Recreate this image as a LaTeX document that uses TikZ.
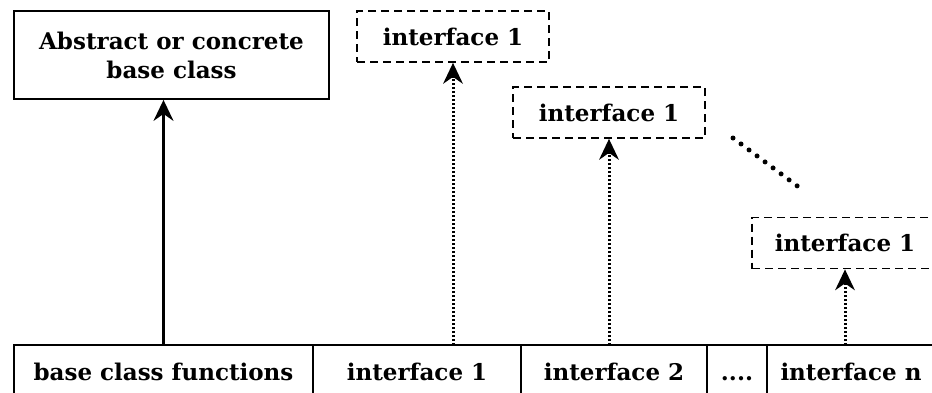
\documentclass[tikz,border=0pt]{standalone}
\usepackage{fontspec}
\setmainfont{DejaVu Serif}
\usetikzlibrary{arrows.meta}
\begin{document}
\begin{tikzpicture}[x=1pt,y=-1pt,
  every node/.style={font=\bfseries\fontsize{23}{29}\selectfont, inner sep=0pt},
  solidbox/.style={draw, line width=1.8pt, align=center},
  dashbox/.style={draw, line width=1.8pt, dash pattern=on 8pt off 5pt, minimum width=192, minimum height=51},
  cell/.style={draw, line width=1.8pt, outer sep=0pt, minimum height=58, text height=17pt, text depth=5pt},
  inh/.style={line width=2.2pt, -{Stealth[length=21pt,width=20pt,inset=7pt]}},
  impl/.style={line width=3pt, dash pattern=on 2.2pt off 1.8pt, -{Stealth[length=21pt,width=20pt,inset=7pt,line width=0pt,sep=0pt]}},
  dotline/.style={line width=5pt, line cap=round, dash pattern=on 0pt off 10pt}
]
\useasboundingbox (0,0) rectangle (932,392);
\clip (0,0) rectangle (932,392);
\node[solidbox, minimum width=315, minimum height=88] (base) at (171.5,55) {Abstract or concrete\\base class};
\node[dashbox] (i1) at (453,36.5) {interface 1};
\node[dashbox] (i2) at (609,112.5) {interface 1};
\node[dashbox, minimum width=186] (i3) at (845,243) {interface 1};
\node[cell, minimum width=299, anchor=north west] (c0) at (14,345) {base class functions};
\node[cell, minimum width=208, anchor=north west] (c1) at (c0.north east) {interface 1};
\node[cell, minimum width=186, anchor=north west] (c2) at (c1.north east) {interface 2};
\node[cell, minimum width=60, anchor=north west] (c3) at (c2.north east) {....};
\node[cell, minimum width=168, anchor=north west] (c4) at (c3.north east) {interface n};
\coordinate (d1) at (733,138);
\coordinate (d2) at (804,191);
\draw[inh] (c0.north) -- (c0.north |- base.south);
\draw[impl] (i1.south |- c1.north) -- (i1.south);
\draw[impl] (i2.south |- c2.north) -- (i2.south);
\draw[impl] (i3.south |- c4.north) -- (i3.south);
\draw[dotline] (d1) -- (d2);
\end{tikzpicture}
\end{document}
